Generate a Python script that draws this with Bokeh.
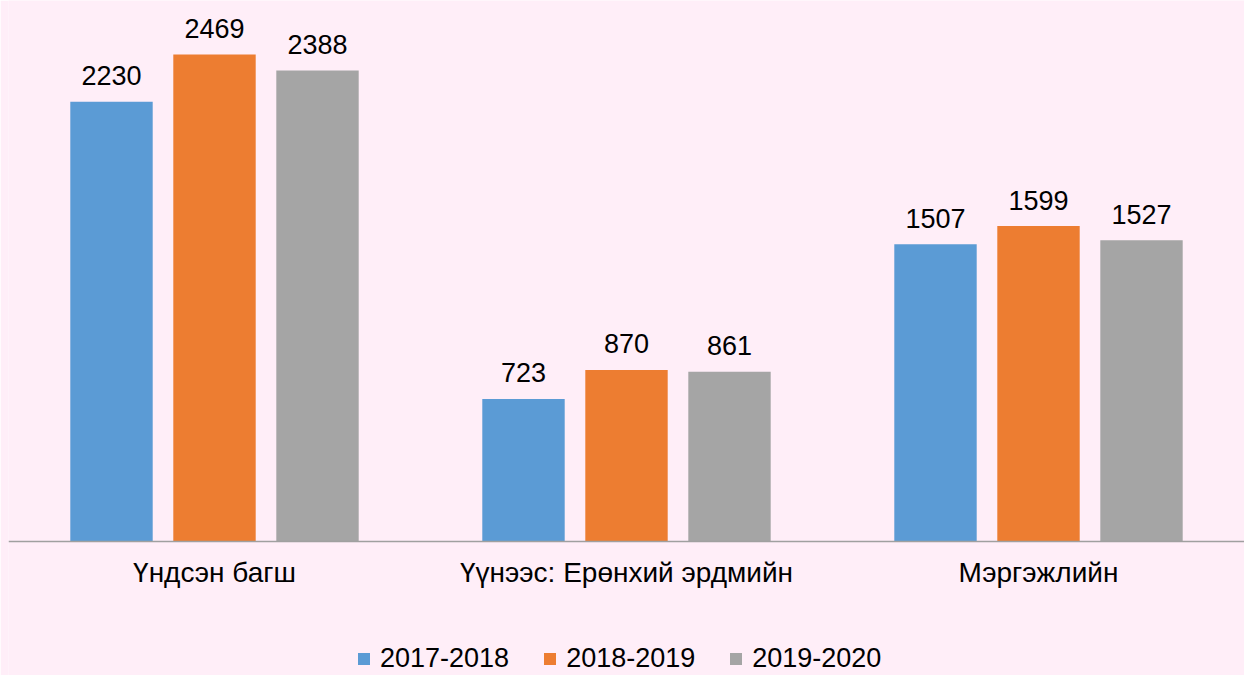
from bokeh.plotting import figure
from bokeh.models import ColumnDataSource, Range1d, FactorRange, Legend, LegendItem
from bokeh.transform import dodge
from bokeh.core.properties import value
from bokeh.embed import file_html
from bokeh.resources import INLINE

categories = ["Үндсэн багш", "Үүнээс: Ерөнхий эрдмийн", "Мэргэжлийн"]
years = ["2017-2018", "2018-2019", "2019-2020"]
v2017 = [2230, 723, 1507]
v2018 = [2469, 870, 1599]
v2019 = [2388, 861, 1527]
colors = ["#5B9BD5", "#ED7D31", "#A5A5A5"]

BG = "#FFEEF8"
FONT = "Liberation Sans"

src = ColumnDataSource(dict(
    cat=categories,
    v2017=v2017, v2018=v2018, v2019=v2019,
    l2017=[str(v) for v in v2017],
    l2018=[str(v) for v in v2018],
    l2019=[str(v) for v in v2019],
))

p = figure(x_range=FactorRange(*categories), y_range=Range1d(-679.5, 2743),
           width=1244, height=675, output_backend="svg", toolbar_location=None,
           min_border_left=8, min_border_right=0, min_border_top=0, min_border_bottom=0)
p.background_fill_color = BG
p.border_fill_color = BG
p.outline_line_color = None
p.xgrid.visible = False
p.ygrid.visible = False
p.yaxis.visible = False

offsets = [-0.25, 0.0, 0.25]
cols = ["v2017", "v2018", "v2019"]
labs = ["l2017", "l2018", "l2019"]
items = []
for off, col, lab, c, yr in zip(offsets, cols, labs, colors, years):
    r = p.vbar(x=dodge("cat", off, range=p.x_range), top=col, width=0.2, source=src,
               fill_color=c, line_color=None)
    p.text(x=dodge("cat", off, range=p.x_range), y=col, text=lab, source=src,
           text_align="center", text_baseline="alphabetic", y_offset=-26,
           text_font=value(FONT), text_font_size="27px", text_color="#000000")
    items.append(LegendItem(label=yr, renderers=[r]))

ax = p.xaxis[0]
ax.fixed_location = 0
ax.axis_line_color = "#A0A0A0"
ax.axis_line_width = 1.5
ax.major_tick_line_color = None
ax.minor_tick_line_color = None
ax.major_tick_out = 0
ax.major_tick_in = 0
ax.major_label_standoff = 16
ax.major_label_text_font = FONT
ax.major_label_text_font_size = "28px"
ax.major_label_text_color = "#000000"

legend = Legend(items=items, orientation="horizontal", location=(348, 1),
                glyph_width=15, glyph_height=15, label_standoff=9, spacing=33,
                padding=0, margin=0, border_line_alpha=0, background_fill_alpha=0,
                label_text_font=FONT, label_text_font_size="27px", label_text_color="#000000")
p.add_layout(legend, "center")

open("out.html", "w").write(file_html(p, INLINE))
